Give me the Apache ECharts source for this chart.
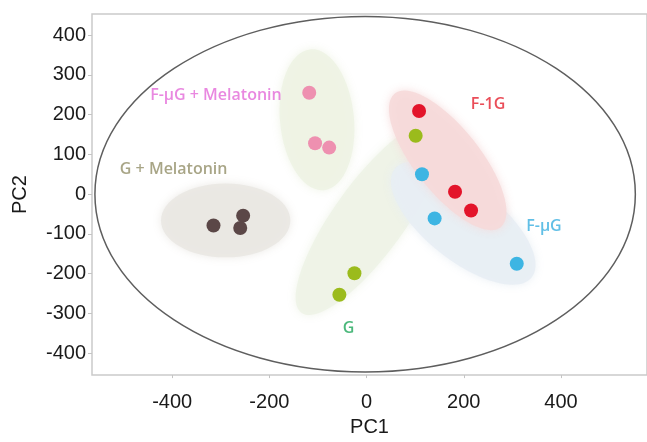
<!DOCTYPE html>
<html>
<head>
<meta charset="utf-8">
<script src="https://cdn.jsdelivr.net/npm/echarts@6/dist/echarts.min.js"></script>
<style>
html,body{margin:0;padding:0;background:#fff;}
#chart{width:647px;height:442px;}
</style>
</head>
<body>
<div id="chart"></div>
<script>
// ---- data ----
var xTicks = [-400, -200, 0, 200, 400];
var yTicks = [-400, -300, -200, -100, 0, 100, 200, 300, 400];

var gMelatonin   = [[-315, -79], [-254, -54], [-260, -85]];
var fugMelatonin = [[-118, 255], [-106, 128], [-77, 117]];
var gGroup       = [[-25, -199], [-56, -253], [101, 147]];
var f1gGroup     = [[108, 209], [182, 6], [215, -41]];
var fugGroup     = [[114, 50], [140, -61], [309, -175]];

// group ellipses: [centerX, centerY, majorTipX, majorTipY, minorSemiAxis(PC1 units)]
var groupEllipses = [
  [-290, -66, -157, -66, 76],
  [-102, 187, -116, 364, 76],
  [7, -60, 148, 178, 73],
  [199, -73, 340, -209, 77],
  [167, 85, 276, -83, 67]
];
var ellipseColors = ['#e9e7e3', '#eef2e4', '#eef3e6', '#e7eef4', '#f6d9da'];

// outer confidence ellipse: [centerX, centerY, radiusPC1, radiusPC2]
var outerEllipse = [[-3, 0, 556, 447]];

var groupLabels = [
  {name: 'F-\u00b5G + Melatonin', value: [-310, 249], color: '#e46ad8'},
  {name: 'G + Melatonin', value: [-397, 62], color: '#928f68'},
  {name: 'F-1G', value: [250, 226], color: '#e5202e'},
  {name: 'F-\u00b5G', value: [365, -81], color: '#39afe0'},
  {name: 'G', value: [-37, -337], color: '#1ea65a'}
];

var chart = echarts.init(document.getElementById('chart'), null, {renderer: 'canvas'});

function scatter(data, color) {
  return {
    type: 'scatter', data: data, symbolSize: 14, z: 5,
    itemStyle: {color: color, opacity: 1},
    silent: true
  };
}

var axisFont = {fontFamily: 'Liberation Sans, Arial', fontSize: 20, color: '#1a1a1a'};

var option = {
  animation: false,
  backgroundColor: '#fff',
  grid: {
    left: 92, top: 14, bottom: 60, right: -10,
    show: true, borderColor: '#cacaca', borderWidth: 1.5, backgroundColor: '#fff'
  },
  xAxis: {
    type: 'value', min: -565, max: 577,
    name: 'PC1', nameLocation: 'middle', nameGap: 40,
    nameTextStyle: axisFont,
    axisLine: {show: false, onZero: false},
    splitLine: {show: false},
    axisTick: {show: true, customValues: xTicks, length: 3, lineStyle: {color: '#c4c4c4'}},
    axisLabel: Object.assign({customValues: xTicks, margin: 17}, axisFont)
  },
  yAxis: {
    type: 'value', min: -455, max: 453,
    name: 'PC2', nameLocation: 'middle', nameGap: 62, nameRotate: 90,
    nameTextStyle: axisFont,
    axisLine: {show: false, onZero: false},
    splitLine: {show: false},
    axisTick: {show: true, customValues: yTicks, length: 4, lineStyle: {color: '#c4c4c4'}},
    axisLabel: Object.assign({customValues: yTicks, margin: 6}, axisFont)
  },
  series: [
    {
      type: 'custom', z: 1, silent: true, clip: true,
      data: groupEllipses,
      renderItem: function (params, api) {
        var c = api.coord([api.value(0), api.value(1)]);
        var t = api.coord([api.value(2), api.value(3)]);
        var dx = t[0] - c[0], dy = t[1] - c[1];
        var a = Math.sqrt(dx * dx + dy * dy);
        var b = api.size([api.value(4), 0])[0];
        var ang = Math.atan2(dy, dx);
        var col = ellipseColors[params.dataIndex];
        return {
          type: 'ellipse',
          shape: {cx: c[0], cy: c[1], rx: a, ry: b},
          rotation: -ang, originX: c[0], originY: c[1],
          style: {fill: col, opacity: 0.88, shadowBlur: 8, shadowColor: col}
        };
      }
    },
    {
      type: 'custom', z: 2, silent: true, clip: true,
      data: outerEllipse,
      renderItem: function (params, api) {
        var c = api.coord([api.value(0), api.value(1)]);
        var s = api.size([api.value(2), api.value(3)]);
        return {
          type: 'ellipse',
          shape: {cx: c[0], cy: c[1], rx: s[0], ry: s[1]},
          style: {fill: 'none', stroke: '#5e5e5e', lineWidth: 1.5}
        };
      }
    },
    scatter(gMelatonin, '#5b4747'),
    scatter(fugMelatonin, '#ee90b0'),
    scatter(gGroup, '#9bbb1c'),
    scatter(f1gGroup, '#e3142a'),
    scatter(fugGroup, '#3db5e3'),
    {
      type: 'scatter', z: 6, silent: true, symbolSize: 0,
      data: groupLabels.map(function (d) {
        return {name: d.name, value: d.value, label: {color: d.color}};
      }),
      label: {
        show: true, position: 'inside', formatter: '{b}',
        fontFamily: 'Open Sans', fontSize: 16, fontWeight: 600
      }
    }
  ]
};
chart.setOption(option);
</script>
</body>
</html>
